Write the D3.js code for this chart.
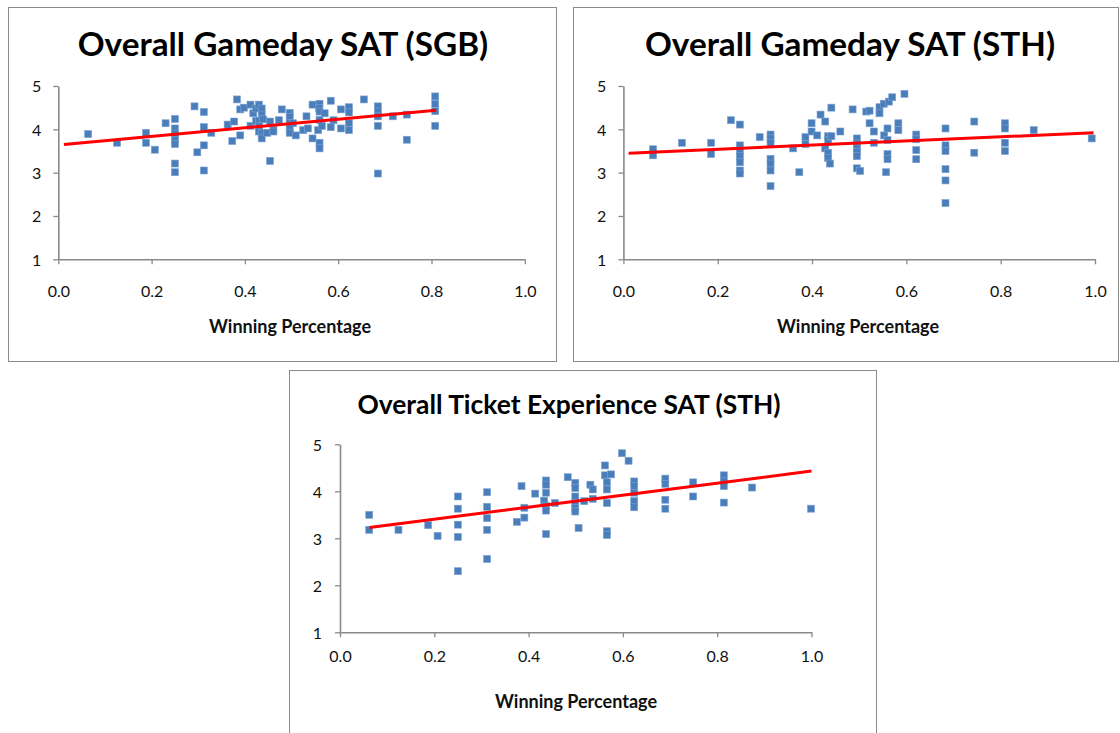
<!DOCTYPE html>
<html>
<head>
<meta charset="utf-8">
<script src="https://cdn.jsdelivr.net/npm/d3@7"></script>
<style>
  html, body { margin: 0; padding: 0; background: #ffffff; }
  svg { display: block; }
</style>
</head>
<body>
<script>
// Shared axis ticks
const xTicks = [0, 0.2, 0.4, 0.6, 0.8, 1.0];
const yTicks = [1, 2, 3, 4, 5];
const xAxisTitle = "Winning Percentage";

// Overall Gameday SAT (SGB): winning percentage vs. satisfaction
const sgbWin = [0.064,0.126,0.188,0.188,0.207,0.230,0.250,0.250,0.250,0.250,0.250,0.250,0.250,0.292,0.312,0.312,0.312,0.298,0.312,0.328,0.363,0.377,0.373,0.390,0.383,0.390,0.398,0.412,0.412,0.418,0.424,0.430,0.436,0.436,0.424,0.430,0.439,0.430,0.430,0.436,0.436,0.454,0.448,0.461,0.461,0.454,0.473,0.479,0.496,0.496,0.496,0.503,0.496,0.496,0.509,0.525,0.532,0.535,0.545,0.545,0.560,0.559,0.560,0.571,0.560,0.557,0.565,0.560,0.560,0.584,0.584,0.590,0.606,0.623,0.623,0.606,0.623,0.623,0.655,0.685,0.685,0.685,0.685,0.685,0.717,0.747,0.747,0.808,0.808,0.808,0.808];
const sgbSat = [3.89,3.69,3.92,3.69,3.53,4.14,4.24,4.02,3.90,3.76,3.66,3.21,3.01,4.53,4.40,4.05,3.63,3.47,3.05,3.92,4.11,4.18,3.73,3.86,4.69,4.46,4.50,4.57,4.08,4.37,4.48,4.57,4.48,4.34,4.19,4.20,4.23,4.07,3.95,3.92,3.79,4.18,3.92,3.99,3.95,3.27,4.21,4.46,4.38,4.28,4.14,4.14,4.03,3.92,3.86,3.98,4.30,4.02,4.57,3.79,4.59,4.49,4.41,4.37,4.22,3.98,4.08,3.69,3.56,4.66,4.05,4.21,4.46,4.51,4.39,4.02,4.14,3.98,4.69,4.53,4.41,4.30,4.08,2.98,4.30,4.34,3.76,4.76,4.59,4.42,4.08];
const sgbTrendWin = [0.012, 0.810];
const sgbTrendSat = [3.65, 4.44];

// Overall Gameday SAT (STH)
const sthGameWin = [0.063,0.063,0.124,0.186,0.186,0.228,0.247,0.247,0.247,0.247,0.247,0.247,0.247,0.289,0.312,0.312,0.312,0.312,0.312,0.312,0.312,0.360,0.373,0.386,0.386,0.399,0.399,0.411,0.418,0.428,0.441,0.434,0.434,0.428,0.434,0.434,0.438,0.441,0.460,0.486,0.495,0.495,0.495,0.495,0.495,0.495,0.502,0.515,0.522,0.522,0.531,0.531,0.543,0.543,0.552,0.563,0.570,0.596,0.553,0.560,0.560,0.560,0.560,0.557,0.583,0.583,0.621,0.621,0.621,0.621,0.683,0.683,0.683,0.683,0.683,0.683,0.744,0.744,0.809,0.809,0.809,0.809,0.870,0.993];
const sthGameSat = [3.54,3.40,3.69,3.69,3.43,4.21,4.11,3.63,3.51,3.38,3.24,3.05,2.98,3.82,3.88,3.79,3.69,3.32,3.21,3.05,2.69,3.56,3.01,3.82,3.66,4.14,3.95,3.86,4.34,4.18,4.50,3.84,3.75,3.56,3.46,3.34,3.21,3.84,3.95,4.46,3.79,3.67,3.56,3.48,3.38,3.10,3.04,4.41,4.43,4.14,3.95,3.69,4.51,4.37,4.59,4.64,4.74,4.82,3.86,4.02,3.75,3.43,3.31,3.01,4.14,3.98,3.88,3.77,3.52,3.31,4.02,3.63,3.50,3.08,2.82,2.30,4.18,3.46,4.14,4.02,3.69,3.50,3.98,3.79];
const sthGameTrendWin = [0.011, 0.997];
const sthGameTrendSat = [3.45, 3.92];

// Overall Ticket Experience SAT (STH)
const ticketWin = [0.062,0.062,0.124,0.187,0.207,0.250,0.250,0.250,0.250,0.250,0.312,0.312,0.312,0.312,0.312,0.375,0.385,0.391,0.391,0.414,0.437,0.437,0.437,0.433,0.437,0.437,0.437,0.456,0.483,0.499,0.499,0.499,0.499,0.499,0.499,0.506,0.518,0.531,0.536,0.536,0.562,0.562,0.575,0.566,0.566,0.566,0.566,0.566,0.598,0.612,0.624,0.624,0.624,0.624,0.624,0.690,0.690,0.690,0.690,0.749,0.749,0.814,0.814,0.814,0.814,0.874,0.999];
const ticketSat = [3.50,3.18,3.18,3.28,3.05,3.89,3.63,3.29,3.03,2.30,3.98,3.67,3.43,3.18,2.56,3.35,4.11,3.65,3.44,3.95,4.23,4.14,3.97,3.80,3.69,3.59,3.09,3.75,4.30,4.18,4.07,3.89,3.75,3.64,3.57,3.22,3.79,4.14,4.04,3.84,4.55,4.34,4.36,4.19,4.04,3.75,3.15,3.07,4.81,4.65,4.21,4.11,3.97,3.79,3.66,4.27,4.16,3.82,3.63,4.19,3.89,4.34,4.21,4.11,3.76,4.08,3.63];
const ticketTrendWin = [0.0625, 1.0];
const ticketTrendSat = [3.23, 4.43];

const panels = [
  { title: "Overall Gameday SAT (SGB)", win: sgbWin, sat: sgbSat, tWin: sgbTrendWin, tSat: sgbTrendSat,
    frame: [8, 7, 548, 354], plot: [58.3, 524.8, 86, 259.3], titleX: 283, titleY: 56, titleSize: 33.3,
    xLabelY: 297, yLabelPad: 12, xTitleX: 290, xTitleY: 333 },
  { title: "Overall Gameday SAT (STH)", win: sthGameWin, sat: sthGameSat, tWin: sthGameTrendWin, tSat: sthGameTrendSat,
    frame: [573, 7, 545, 354], plot: [623.4, 1095, 86, 259.3], titleX: 850, titleY: 56, titleSize: 33.3,
    xLabelY: 297, yLabelPad: 12, xTitleX: 858, xTitleY: 333 },
  { title: "Overall Ticket Experience SAT (STH)", win: ticketWin, sat: ticketSat, tWin: ticketTrendWin, tSat: ticketTrendSat,
    frame: [289, 370, 587, 380], plot: [340, 811.5, 444.3, 632.3], titleX: 569, titleY: 414, titleSize: 26.4,
    xLabelY: 662, yLabelPad: 13, xTitleX: 576, xTitleY: 708 }
];

const svg = d3.select("body").append("svg")
  .attr("width", 1120).attr("height", 733);

svg.append("rect").attr("width", 1120).attr("height", 733).attr("fill", "#ffffff");

const axisColor = "#898989";
const fontFamily = "Lato, 'Open Sans', sans-serif";

function drawPanel(p) {
  const [fx, fy, fw, fh] = p.frame;
  const [left, right, top, bottom] = p.plot;
  const g = svg.append("g");

  g.append("rect")
    .attr("x", fx + 0.5).attr("y", fy + 0.5)
    .attr("width", fw).attr("height", fh)
    .attr("fill", "#ffffff")
    .attr("stroke", "#8a8a8a").attr("stroke-width", 1);

  const x = d3.scaleLinear().domain([0, 1]).range([left, right]);
  const y = d3.scaleLinear().domain([1, 5]).range([bottom, top]);

  // y axis
  const yAxis = g.append("g")
    .attr("transform", `translate(${left},0)`)
    .call(d3.axisLeft(y).tickValues(yTicks).tickSize(5).tickSizeOuter(0)
      .tickPadding(p.yLabelPad).tickFormat(d3.format("d")));

  // x axis
  const xAxis = g.append("g")
    .attr("transform", `translate(0,${bottom})`)
    .call(d3.axisBottom(x).tickValues(xTicks).tickSize(5).tickSizeOuter(0)
      .tickFormat(d3.format(".1f")));

  [yAxis, xAxis].forEach(a => {
    a.select(".domain").attr("stroke", axisColor).attr("stroke-width", 1.6);
    a.selectAll(".tick line").attr("stroke", axisColor).attr("stroke-width", 1.3);
    a.selectAll(".tick text")
      .attr("fill", "#111111")
      .style("font-family", fontFamily)
      .style("font-size", "16px");
  });
  xAxis.selectAll(".tick text")
    .attr("dy", null)
    .attr("y", p.xLabelY - bottom);
  yAxis.selectAll(".tick text").attr("dy", "0.36em");

  // data markers
  const pts = p.win.map((w, i) => ({ w, s: p.sat[i] }));
  g.append("g").selectAll("rect")
    .data(pts)
    .join("rect")
    .attr("x", d => x(d.w) - 3.5)
    .attr("y", d => y(d.s) - 3.5)
    .attr("width", 7).attr("height", 7)
    .attr("fill", "#4a7ebb")
    .attr("stroke", "#7da2d2")
    .attr("stroke-width", 0.6);

  // linear trend line
  const trend = p.tWin.map((w, i) => [w, p.tSat[i]]);
  g.append("path")
    .datum(trend)
    .attr("d", d3.line().x(d => x(d[0])).y(d => y(d[1])))
    .attr("fill", "none")
    .attr("stroke", "#ff0000")
    .attr("stroke-width", 3);

  // chart title
  g.append("text")
    .attr("x", p.titleX)
    .attr("y", p.titleY)
    .attr("text-anchor", "middle")
    .style("font-family", fontFamily)
    .style("font-weight", "700")
    .style("font-size", p.titleSize + "px")
    .attr("fill", "#000000")
    .text(p.title);

  // x axis title
  g.append("text")
    .attr("x", p.xTitleX)
    .attr("y", p.xTitleY)
    .attr("text-anchor", "middle")
    .style("font-family", fontFamily)
    .style("font-weight", "700")
    .style("font-size", "18px")
    .attr("fill", "#111111")
    .text(xAxisTitle);
}

panels.forEach(drawPanel);
</script>
</body>
</html>
